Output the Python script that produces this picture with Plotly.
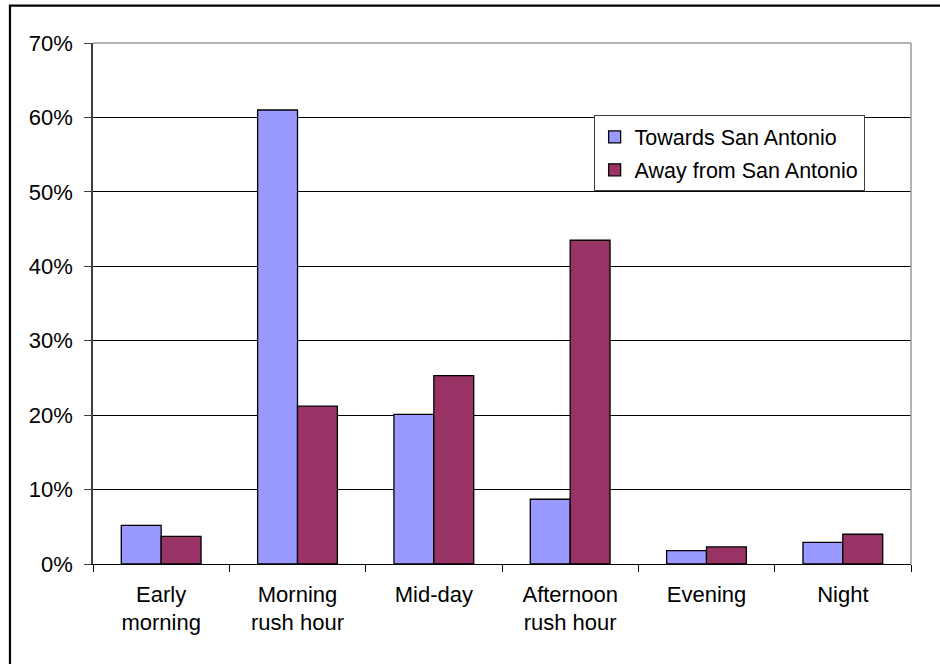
import plotly.graph_objects as go

# Share of trips by time of day, per travel direction
periods = ["Early<br>morning", "Morning<br>rush hour", "Mid-day",
           "Afternoon<br>rush hour", "Evening", "Night"]
towards_sa = [5.2, 61.0, 20.1, 8.7, 1.8, 2.9]
away_from_sa = [3.7, 21.2, 25.3, 43.5, 2.3, 4.0]
y_ticks = [0, 10, 20, 30, 40, 50, 60, 70]
y_tick_text = [f"{v}%" for v in y_ticks]

FONT = "Liberation Sans, Arial, sans-serif"

fig = go.Figure()
fig.add_trace(go.Bar(
    x=periods, y=towards_sa, name="Towards San Antonio", legendgroup="t",
    marker=dict(color="#9999FF", line=dict(color="#000000", width=1.3)),
))
fig.add_trace(go.Bar(
    x=periods, y=away_from_sa, name="Away from San Antonio", legendgroup="a",
    marker=dict(color="#993366", line=dict(color="#000000", width=1.3)),
))

fig.update_layout(
    width=940, height=664,
    margin=dict(l=93, r=29, t=43, b=100),
    paper_bgcolor="white", plot_bgcolor="white",
    barmode="group", bargap=0.415, bargroupgap=0,
    font=dict(family=FONT, size=22, color="#000000"),
    showlegend=True,
    legend=dict(
        x=0.612, y=0.861, xanchor="left", yanchor="top",
        bgcolor="white", bordercolor="#404040", borderwidth=1,
        font=dict(family=FONT, size=21.5, color="#000000"),
        itemwidth=30, traceorder="grouped", tracegroupgap=2,
    ),
    xaxis=dict(
        range=[-0.5, 5.5], showgrid=False,
        showline=True, linecolor="#000000", linewidth=1.3,
        ticks="outside", tickson="boundaries", ticklen=7,
        tickcolor="#000000", tickwidth=1,
        ticklabelstandoff=10,
        tickfont=dict(family=FONT, size=22, color="#000000"),
    ),
    yaxis=dict(
        range=[0, 70], tickvals=y_ticks, ticktext=y_tick_text,
        showgrid=True, gridcolor="#000000", gridwidth=1,
        zeroline=False,
        showline=True, linecolor="#404040", linewidth=1.5,
        ticks="outside", ticklen=7, tickcolor="#404040", tickwidth=1,
        ticklabelstandoff=7,
        tickfont=dict(family=FONT, size=22, color="#000000"),
    ),
    shapes=[
        # plot-area border on top and right
        dict(type="line", xref="paper", yref="paper", x0=0, x1=1, y0=1, y1=1,
             line=dict(color="#9a9a9a", width=1.5), layer="above"),
        dict(type="line", xref="paper", yref="paper", x0=1, x1=1, y0=0, y1=1,
             line=dict(color="#9a9a9a", width=1.5), layer="above"),
        # outer chart frame
        dict(type="rect", xref="paper", yref="paper",
             x0=-0.1015, x1=1.2, y0=-0.3, y1=1.0717,
             line=dict(color="#000000", width=2.2), layer="above"),
    ],
)

fig.write_html("out.html")
